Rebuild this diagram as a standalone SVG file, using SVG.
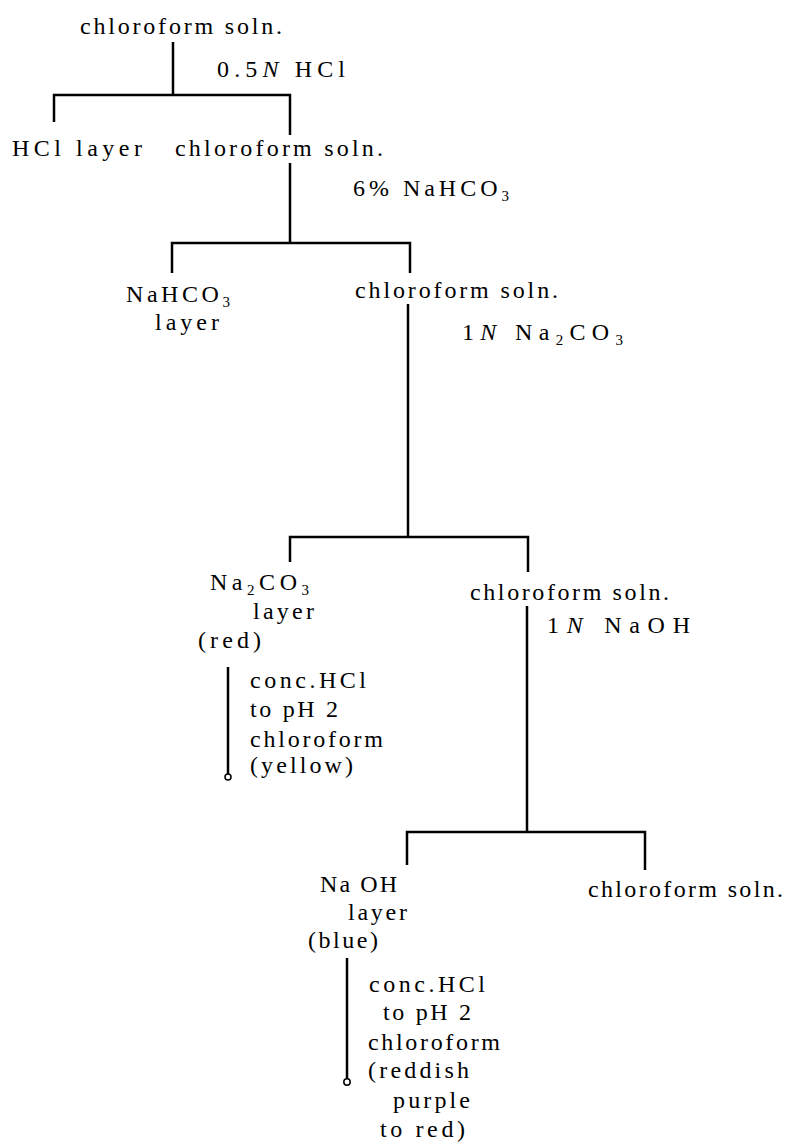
<svg xmlns="http://www.w3.org/2000/svg" width="790" height="1142" viewBox="0 0 790 1142">
<style>
  text { font-family: "Liberation Serif", "Times New Roman", serif; font-size: 24px; fill: #000; }
  .sub { font-size: 15px; }
  .it { font-style: italic; }
  .ln { stroke: #000; stroke-width: 2.5; fill: none; }
  .end { stroke: #000; stroke-width: 1.5; fill: #fff; }
</style>
<rect width="790" height="1142" fill="#fff"/>
<g id="connectors">
  <path class="ln" d="M173,42 V95 M54,122 V95 H290 V135"/>
  <path class="ln" d="M290,163 V243 M172,273 V243 H410 V273"/>
  <path class="ln" d="M408,304 V537 M290,562 V537 H528 V572"/>
  <path class="ln" d="M527,606 V832 M407,865 V832 H645 V870"/>
  <path class="ln" d="M228,667 V774"/>
  <circle class="end" cx="228" cy="777" r="3"/>
  <path class="ln" d="M347,958 V1079"/>
  <circle class="end" cx="347" cy="1082" r="3.2"/>
</g>
<g id="n1"><text x="80" y="34" textLength="202" lengthAdjust="spacing">chloroform soln.</text></g>
<g id="r1"><text x="217" y="77" textLength="128" lengthAdjust="spacing">0.5<tspan class="it">N</tspan> HCl</text></g>
<g id="n2"><text x="12" y="156" textLength="130" lengthAdjust="spacing">HCl  layer</text></g>
<g id="n3"><text x="175" y="156" textLength="208" lengthAdjust="spacing">chloroform soln.</text></g>
<g id="r2"><text x="353" y="196" textLength="156" lengthAdjust="spacing">6% NaHCO<tspan class="sub" dy="5">3</tspan></text></g>
<g id="n4">
  <text x="126" y="302" textLength="104" lengthAdjust="spacing">NaHCO<tspan class="sub" dy="5">3</tspan></text>
  <text x="155" y="330" textLength="64" lengthAdjust="spacing">layer</text>
</g>
<g id="n5"><text x="355" y="298" textLength="203" lengthAdjust="spacing">chloroform soln.</text></g>
<g id="r3"><text x="462" y="340" textLength="161" lengthAdjust="spacing">1<tspan class="it">N</tspan>  Na<tspan class="sub" dy="5">2</tspan><tspan dy="-5">CO</tspan><tspan class="sub" dy="5">3</tspan></text></g>
<g id="n6">
  <text x="210" y="590" textLength="99" lengthAdjust="spacing">Na<tspan class="sub" dy="5">2</tspan><tspan dy="-5">CO</tspan><tspan class="sub" dy="5">3</tspan></text>
  <text x="253" y="619" textLength="61" lengthAdjust="spacing">layer</text>
  <text x="198" y="648" textLength="63" lengthAdjust="spacing">(red)</text>
</g>
<g id="s1">
  <text x="250" y="688" textLength="116" lengthAdjust="spacing">conc.HCl</text>
  <text x="250" y="717" textLength="88" lengthAdjust="spacing">to pH 2</text>
  <text x="250" y="747" textLength="133" lengthAdjust="spacing">chloroform</text>
  <text x="250" y="773" textLength="103" lengthAdjust="spacing">(yellow)</text>
</g>
<g id="n7"><text x="470" y="600" textLength="199" lengthAdjust="spacing">chloroform soln.</text></g>
<g id="r4"><text x="547" y="633" textLength="143" lengthAdjust="spacing">1<tspan class="it">N</tspan>    NaOH</text></g>
<g id="n8">
  <text x="320" y="892" textLength="77" lengthAdjust="spacing">Na OH</text>
  <text x="348" y="920" textLength="59" lengthAdjust="spacing">layer</text>
  <text x="308" y="948" textLength="70" lengthAdjust="spacing">(blue)</text>
</g>
<g id="s2">
  <text x="369" y="992" textLength="116" lengthAdjust="spacing">conc.HCl</text>
  <text x="383" y="1020" textLength="88" lengthAdjust="spacing">to pH 2</text>
  <text x="368" y="1050" textLength="132" lengthAdjust="spacing">chloroform</text>
  <text x="368" y="1078" textLength="101" lengthAdjust="spacing">(reddish</text>
  <text x="393" y="1108" textLength="77" lengthAdjust="spacing">purple</text>
  <text x="380" y="1137" textLength="85" lengthAdjust="spacing">to red)</text>
</g>
<g id="n9"><text x="588" y="897" textLength="195" lengthAdjust="spacing">chloroform soln.</text></g>
</svg>
